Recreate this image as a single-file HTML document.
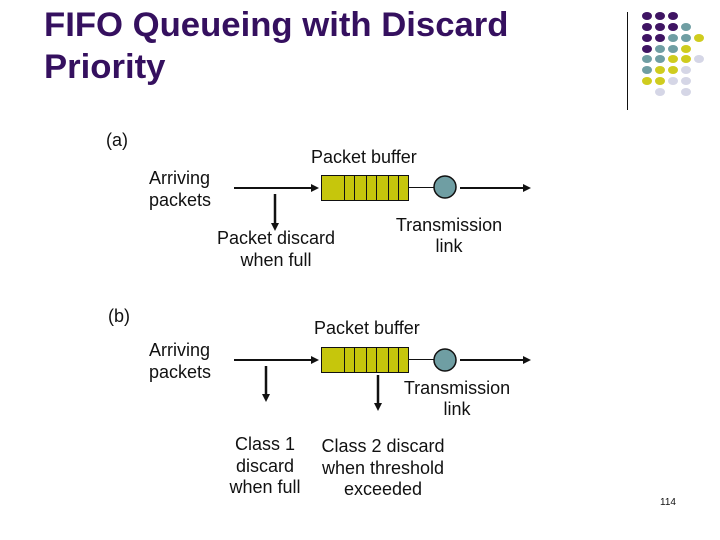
<!DOCTYPE html>
<html>
<head>
<meta charset="utf-8">
<style>
html,body{margin:0;padding:0;background:#fff;}
svg{display:block;}
text{font-family:"Liberation Sans",sans-serif;fill:#111;font-size:18px;}
.t{font-size:34.7px;font-weight:bold;fill:#35105f;}
</style>
</head>
<body>
<svg width="720" height="540" viewBox="0 0 720 540" xmlns="http://www.w3.org/2000/svg">
<defs>
<g id="buf">
<rect x="321.5" y="0.5" width="87" height="25" fill="#c6c60c" stroke="#111" stroke-width="1"/>
<path d="M344.500 0V25M354.500 0V25M366.500 0V25M376.500 0V25M388.500 0V25M398.500 0V25" stroke="#111" stroke-width="1"/>
</g>
</defs>
<text class="t" x="44" y="36">FIFO Queueing with Discard</text>
<text class="t" x="44" y="78">Priority</text>
<line x1="627.5" y1="12" x2="627.5" y2="110" stroke="#111" stroke-width="1"/>
<g fill="#3f1463">
<ellipse cx="647" cy="16" rx="5" ry="4"/><ellipse cx="660" cy="16" rx="5" ry="4"/><ellipse cx="673" cy="16" rx="5" ry="4"/>
<ellipse cx="647" cy="27" rx="5" ry="4"/><ellipse cx="660" cy="27" rx="5" ry="4"/><ellipse cx="673" cy="27" rx="5" ry="4"/>
<ellipse cx="647" cy="38" rx="5" ry="4"/><ellipse cx="660" cy="38" rx="5" ry="4"/>
<ellipse cx="647" cy="49" rx="5" ry="4"/>
</g>
<g fill="#6f9ea3">
<ellipse cx="686" cy="27" rx="5" ry="4"/>
<ellipse cx="673" cy="38" rx="5" ry="4"/><ellipse cx="686" cy="38" rx="5" ry="4"/>
<ellipse cx="660" cy="49" rx="5" ry="4"/><ellipse cx="673" cy="49" rx="5" ry="4"/>
<ellipse cx="647" cy="59" rx="5" ry="4"/><ellipse cx="660" cy="59" rx="5" ry="4"/>
<ellipse cx="647" cy="70" rx="5" ry="4"/>
</g>
<g fill="#cfcc1e">
<ellipse cx="699" cy="38" rx="5" ry="4"/>
<ellipse cx="686" cy="49" rx="5" ry="4"/>
<ellipse cx="673" cy="59" rx="5" ry="4"/><ellipse cx="686" cy="59" rx="5" ry="4"/>
<ellipse cx="660" cy="70" rx="5" ry="4"/><ellipse cx="673" cy="70" rx="5" ry="4"/>
<ellipse cx="647" cy="81" rx="5" ry="4"/><ellipse cx="660" cy="81" rx="5" ry="4"/>
</g>
<g fill="#d5d6e6">
<ellipse cx="699" cy="59" rx="5" ry="4"/>
<ellipse cx="686" cy="70" rx="5" ry="4"/>
<ellipse cx="673" cy="81" rx="5" ry="4"/><ellipse cx="686" cy="81" rx="5" ry="4"/>
<ellipse cx="660" cy="92" rx="5" ry="4"/><ellipse cx="686" cy="92" rx="5" ry="4"/>
</g>

<text x="106" y="146">(a)</text>
<text x="311" y="163">Packet buffer</text>
<text x="149" y="184">Arriving</text>
<text x="149" y="206">packets</text>
<use href="#buf" y="175"/>
<line x1="234" y1="188" x2="314" y2="188" stroke="#111" stroke-width="2"/>
<path d="M319 188l-8-4v8z" fill="#111"/>
<line x1="408" y1="187.5" x2="434" y2="187.5" stroke="#111" stroke-width="1"/>
<circle cx="445" cy="187" r="11" fill="#6f9ea3" stroke="#111" stroke-width="1.500"/>
<line x1="460" y1="188" x2="526" y2="188" stroke="#111" stroke-width="2"/>
<path d="M531 188l-8-4v8z" fill="#111"/>
<line x1="275" y1="194" x2="275" y2="225" stroke="#111" stroke-width="2.500"/>
<path d="M275 231l-4-8h8z" fill="#111"/>
<text x="276" y="244" text-anchor="middle">Packet discard</text>
<text x="276" y="266" text-anchor="middle">when full</text>
<text x="449" y="231" text-anchor="middle">Transmission</text>
<text x="449" y="252" text-anchor="middle">link</text>

<text x="108" y="322">(b)</text>
<text x="314" y="334">Packet buffer</text>
<text x="149" y="356">Arriving</text>
<text x="149" y="378">packets</text>
<use href="#buf" y="347"/>
<line x1="234" y1="360" x2="314" y2="360" stroke="#111" stroke-width="2"/>
<path d="M319 360l-8-4v8z" fill="#111"/>
<line x1="408" y1="359.5" x2="434" y2="359.5" stroke="#111" stroke-width="1"/>
<circle cx="445" cy="360" r="11" fill="#6f9ea3" stroke="#111" stroke-width="1.500"/>
<line x1="460" y1="360" x2="526" y2="360" stroke="#111" stroke-width="2"/>
<path d="M531 360l-8-4v8z" fill="#111"/>
<line x1="266" y1="366" x2="266" y2="396" stroke="#111" stroke-width="2.500"/>
<path d="M266 402l-4-8h8z" fill="#111"/>
<line x1="378" y1="375" x2="378" y2="405" stroke="#111" stroke-width="2.500"/>
<path d="M378 411l-4-8h8z" fill="#111"/>
<text x="457" y="394" text-anchor="middle">Transmission</text>
<text x="457" y="415" text-anchor="middle">link</text>
<text x="265" y="450" text-anchor="middle">Class 1</text>
<text x="265" y="472" text-anchor="middle">discard</text>
<text x="265" y="493" text-anchor="middle">when full</text>
<text x="383" y="452" text-anchor="middle">Class 2 discard</text>
<text x="383" y="474" text-anchor="middle">when threshold</text>
<text x="383" y="495" text-anchor="middle">exceeded</text>
<text x="660" y="505" style="font-size:10px">114</text>
</svg>
</body>
</html>
